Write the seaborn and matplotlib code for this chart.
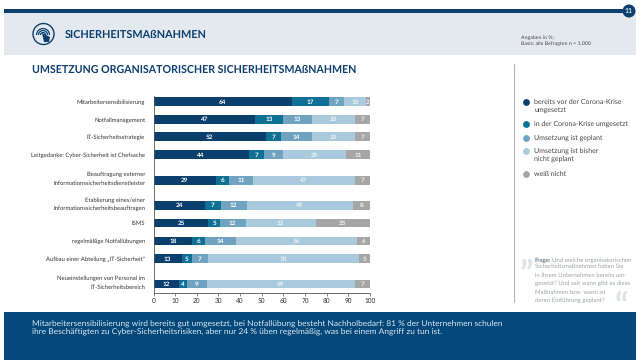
import matplotlib
matplotlib.use('Agg')
import matplotlib.pyplot as plt
from matplotlib.patches import Rectangle, Circle, Arc, Polygon
import numpy as np
import pandas as pd
import seaborn as sns

categories = [
    'Mitarbeitersensibilisierung',
    'Notfallmanagement',
    'IT-Sicherheitsstrategie',
    'Leitgedanke: Cyber-Sicherheit ist Chefsache',
    'Beauftragung externer\nInformationssicherheitsdienstleister',
    'Etablierung eines/einer\nInformationssicherheitsbeauftragen',
    'ISMS',
    'regelmäßige Notfallübungen',
    'Aufbau einer Abteilung „IT-Sicherheit"',
    'Neueinstellungen von Personal im\nIT-Sicherheitsbereich',
]
vor_krise = [64, 47, 52, 44, 29, 24, 25.4, 18, 13, 11.8]
in_krise = [17, 13, 7, 7, 6, 7, 5.2, 6, 5, 3.9]
geplant = [7, 13, 14, 9, 11, 12, 12, 14, 7, 8.8]
nicht_geplant = [10, 20, 20, 29, 47, 49, 32.4, 56, 70, 68.6]
weiss_nicht = [2, 7, 7, 11, 7, 8, 25, 6, 5, 6.9]
series_names = ['bereits vor der Corona-Krise\numgesetzt', 'in der Corona-Krise umgesetzt',
                'Umsetzung ist geplant', 'Umsetzung ist bisher\nnicht geplant', 'weiß nicht']
x_ticks = [0, 10, 20, 30, 40, 50, 60, 70, 80, 90, 100]

colors = ['#0b3f6e', '#0f7096', '#6fa3c0', '#a8cadc', '#a6a6a6']
navy = '#0b3f6e'
row_y = [101.7, 119.2, 136.7, 154.7, 180.3, 205.5, 223, 241, 258.7, 284]
legend_y = [102, 124, 138, 151, 174]

sns.set_theme(style='white')
plt.rcParams['font.family'] = ['Lato', 'DejaVu Sans']
plt.rcParams['text.hinting'] = 'no_hinting'

fig = plt.figure(figsize=(6.4, 3.6), dpi=100)

# page furniture, drawn in pixel coordinates
bg = fig.add_axes([0, 0, 1, 1])
bg.set_xlim(0, 640)
bg.set_ylim(360, 0)
bg.axis('off')
bg.add_patch(Rectangle((4, 13), 632, 42, color='#e4e9ef', lw=0))
bg.add_patch(Rectangle((4, 9), 622, 4, color=navy, lw=0))
bg.add_patch(Circle((629, 11), 6.5, color=navy, lw=0))
bg.text(629, 11, '11', color='#cfe0ea', fontsize=5, fontweight='bold', ha='center', va='center')
bg.add_patch(Circle((43.5, 34), 10.5, fill=False, ec=navy, lw=1))
for d in [5, 9, 13]:
    bg.add_patch(Arc((43, 35), d, d, theta1=180, theta2=360, ec=navy, lw=0.9))
bg.add_patch(Polygon([(42, 33), (50, 37), (49, 42), (44, 42)], color=navy, lw=0))
bg.text(65, 34.5, 'SICHERHEITSMAßNAHMEN', color=navy, fontsize=7.8, fontweight='bold', va='center')
bg.text(32, 70, 'UMSETZUNG ORGANISATORISCHER SICHERHEITSMAßNAHMEN', color=navy,
        fontsize=7.7, fontweight='bold', va='center')
bg.text(521, 40.5, 'Angaben in %;\nBasis: alle Befragten n = 1.000', color='#444444',
        fontsize=3.75, va='center', linespacing=1.25)
bg.plot([513.5, 513.5], [64, 302], color='#b4b4b4', lw=0.8)

bg.add_patch(Rectangle((4, 312), 632, 48, color='#05497c', lw=0))
bg.text(32, 328.5, 'Mitarbeitersensibilisierung wird bereits gut umgesetzt, bei Notfallübung besteht '
        'Nachholbedarf: 81 % der Unternehmen schulen\nihre Beschäftigten zu Cyber-Sicherheitsrisiken, '
        'aber nur 24 % üben regelmäßig, was bei einem Angriff zu tun ist.',
        color='#dce8f0', fontsize=6.0, va='center', linespacing=1.2)

# legend
for name, col, ly in zip(series_names, colors, legend_y):
    bg.scatter([526], [ly], s=24, color=col, lw=0)
    bg.text(534.5, ly + (4 if '\n' in name else 0), name, color='#444444', fontsize=5.0,
            va='center', linespacing=1.4)

# question box
bg.text(535, 260, 'Frage:', color='#6f7f8c', fontsize=4.3, fontweight='bold', va='center')
bg.text(552, 260, 'Und welche organisatorischen', color='#9aa3aa', fontsize=4.3, va='center')
bg.text(535, 283.5, 'Sicherheitsmaßnahmen haben Sie\n'
        'in Ihrem Unternehmen bereits um-\ngesetzt? Und seit wann gibt es diese\n'
        'Maßnahmen bzw. wann ist\nderen Einführung geplant?', color='#9aa3aa', fontsize=4.3,
        va='center', linespacing=1.68)
bg.text(526, 276, '”', color='#dfe3e6', fontsize=25, fontweight='bold', ha='center', va='center')
bg.text(621, 308, '“', color='#dfe3e6', fontsize=25, fontweight='bold', ha='center', va='center')

# stacked bars: longest cumulative series first, shorter ones painted over it
ax = fig.add_axes([153.5 / 640, 1 - 293 / 360, (370 - 153.5) / 640, (293 - 96) / 360])
ax.patch.set_alpha(0)
all_series = [vor_krise, in_krise, geplant, nicht_geplant, weiss_nicht]
cum = np.cumsum(np.array(all_series), axis=0)
for i in range(4, -1, -1):
    df = pd.DataFrame({'value': cum[i], 'row': row_y})
    sns.barplot(data=df, x='value', y='row', orient='h', native_scale=True, color=colors[i],
                saturation=1, width=8.8 / 17.5, linewidth=0, ax=ax, errorbar=None)
    starts = cum[i] - np.array(all_series[i])
    for s, v, y in zip(starts, all_series[i], row_y):
        ax.text(s + v / 2, y + 0.2, f'{v:.0f}', color='white' if i < 3 else '#eef4f7',
                fontsize=4.6, fontweight='bold', ha='center', va='center', zorder=5)

ax.set_xlim(0, 100)
ax.set_ylim(293, 96)
ax.set_xlabel('')
ax.set_ylabel('')
ax.set_xticks(x_ticks)

# two line labels sit with their last line next to the bar
tick_y = [y - 3.5 if '\n' in c else y for y, c in zip(row_y, categories)]
ax.set_yticks(tick_y)
ax.set_yticklabels(categories, linespacing=1.7, ha='right', multialignment='right')
ax.tick_params(axis='x', labelsize=4.7, labelcolor='#333333', length=2, width=0.5, pad=1.5,
               color='#555555', bottom=True)
ax.tick_params(axis='y', labelsize=4.2, labelcolor='#333333', length=0, pad=6)
sns.despine(ax=ax, top=True, right=True)
for side in ['left', 'bottom']:
    ax.spines[side].set_color('#555555')
    ax.spines[side].set_linewidth(0.6)

fig.savefig('out.png', dpi=100)
